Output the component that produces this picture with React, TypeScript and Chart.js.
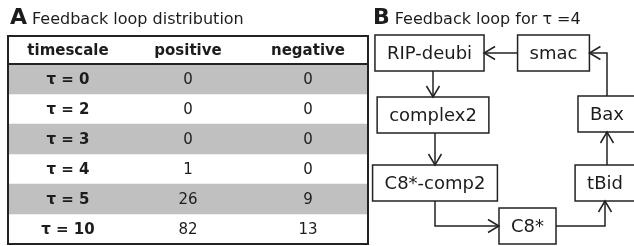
import React, { useEffect, useRef } from "react";
import { Chart, registerables } from "chart.js";

Chart.register(...registerables);

// ---------- Panel A data ----------
const timescales = ["τ = 0", "τ = 2", "τ = 3", "τ = 4", "τ = 5", "τ = 10"];
const positiveLoops = [0, 0, 0, 1, 26, 82];
const negativeLoops = [0, 0, 0, 0, 9, 13];
const columnHeaders = ["timescale", "positive", "negative"];
const shadedRows = [true, false, true, false, true, false];

// ---------- Panel B data ----------
const nodeNames = ["RIP-deubi", "smac", "complex2", "Bax", "C8*-comp2", "tBid", "C8*"];
const nodeX = [59.5, 183.5, 63, 237, 65, 235, 157.5];
const nodeY = [53, 53, 115, 114, 183, 183, 226];
const edgeFrom = ["smac", "RIP-deubi", "complex2", "C8*-comp2", "C8*", "tBid", "Bax"];
const edgeTo = ["RIP-deubi", "complex2", "C8*-comp2", "C8*", "tBid", "Bax", "smac"];
const edgeRoute = ["h", "v", "v", "vh", "hv", "v", "vh"];

const FONT = '"DejaVu Sans", Verdana, sans-serif';
const INK = "#1c1c1c";

function drawTitle(ctx: CanvasRenderingContext2D, letter: string, text: string, x: number, base: number) {
  ctx.save();
  ctx.fillStyle = INK;
  ctx.textAlign = "left";
  ctx.textBaseline = "alphabetic";
  ctx.font = `bold 22px ${FONT}`;
  ctx.fillText(letter, x, base);
  const w = ctx.measureText(letter).width;
  ctx.font = `16px ${FONT}`;
  ctx.fillText(text, x + w + 5, base);
  ctx.restore();
}

const tablePlugin = {
  id: "tableDecor",
  afterDatasetsDraw(chart: any) {
    const { ctx, chartArea, scales } = chart;
    const xs = scales.x;
    const ys = scales.y;
    const headerTop = 36;
    drawTitle(ctx, "A", "Feedback loop distribution", 10, 24);
    ctx.save();
    ctx.fillStyle = INK;
    ctx.textAlign = "center";
    ctx.textBaseline = "middle";
    ctx.font = `bold 15px ${FONT}`;
    columnHeaders.forEach((h, i) => {
      ctx.fillText(h, xs.getPixelForValue(i + 0.5), (headerTop + chartArea.top) / 2 + 1);
    });
    timescales.forEach((t, i) => {
      const py = ys.getPixelForValue(i) + 1;
      ctx.font = `bold 15px ${FONT}`;
      ctx.fillText(t, xs.getPixelForValue(0.5), py);
      ctx.font = `15px ${FONT}`;
      ctx.fillText(String(positiveLoops[i]), xs.getPixelForValue(1.5), py);
      ctx.fillText(String(negativeLoops[i]), xs.getPixelForValue(2.5), py);
    });
    ctx.strokeStyle = "#222";
    ctx.lineWidth = 2;
    ctx.strokeRect(chartArea.left, headerTop, chartArea.right - chartArea.left, chartArea.bottom - headerTop);
    ctx.beginPath();
    ctx.moveTo(chartArea.left, chartArea.top);
    ctx.lineTo(chartArea.right, chartArea.top);
    ctx.stroke();
    ctx.restore();
  },
};

function arrowHead(ctx: CanvasRenderingContext2D, tx: number, ty: number, dx: number, dy: number) {
  const len = 11;
  const half = 6.5;
  const px = -dy;
  const py = dx;
  ctx.beginPath();
  ctx.moveTo(tx - dx * len + px * half, ty - dy * len + py * half);
  ctx.lineTo(tx, ty);
  ctx.lineTo(tx - dx * len - px * half, ty - dy * len - py * half);
  ctx.stroke();
}

const diagramPlugin = {
  id: "diagramDecor",
  afterDatasetsDraw(chart: any) {
    const { ctx, scales } = chart;
    const xs = scales.x;
    const ys = scales.y;
    drawTitle(ctx, "B", "Feedback loop for τ =4", 3, 24);
    ctx.save();
    ctx.font = `18px ${FONT}`;
    const pad = 12;
    const boxH = 36;
    const boxes: Record<string, { l: number; r: number; t: number; b: number; cx: number; cy: number }> = {};
    nodeNames.forEach((n, i) => {
      const cx = xs.getPixelForValue(nodeX[i]);
      const cy = ys.getPixelForValue(nodeY[i]);
      const w = ctx.measureText(n).width + pad * 2;
      boxes[n] = { l: cx - w / 2, r: cx + w / 2, t: cy - boxH / 2, b: cy + boxH / 2, cx, cy };
    });
    ctx.strokeStyle = "#222";
    ctx.lineWidth = 1.5;
    ctx.fillStyle = INK;
    ctx.textAlign = "center";
    ctx.textBaseline = "middle";
    nodeNames.forEach((n) => {
      const b = boxes[n];
      ctx.fillStyle = "#fff";
      ctx.fillRect(b.l, b.t, b.r - b.l, b.b - b.t);
      ctx.strokeRect(b.l, b.t, b.r - b.l, b.b - b.t);
      ctx.fillStyle = INK;
      ctx.fillText(n, b.cx, b.cy + 1);
    });
    edgeFrom.forEach((f, i) => {
      const a = boxes[f];
      const b = boxes[edgeTo[i]];
      const route = edgeRoute[i];
      ctx.beginPath();
      if (route === "h") {
        const y = b.cy;
        const dir = b.cx > a.cx ? 1 : -1;
        const sx = dir > 0 ? a.r : a.l;
        const ex = dir > 0 ? b.l : b.r;
        ctx.moveTo(sx, y);
        ctx.lineTo(ex, y);
        ctx.stroke();
        arrowHead(ctx, ex, y, dir, 0);
      } else if (route === "v") {
        const x = b.cx;
        const dir = b.cy > a.cy ? 1 : -1;
        const sy = dir > 0 ? a.b : a.t;
        const ey = dir > 0 ? b.t : b.b;
        ctx.moveTo(x, sy);
        ctx.lineTo(x, ey);
        ctx.stroke();
        arrowHead(ctx, x, ey, 0, dir);
      } else if (route === "vh") {
        const x = a.cx;
        const y = b.cy;
        const vdir = y > a.cy ? 1 : -1;
        const sy = vdir > 0 ? a.b : a.t;
        const hdir = b.cx > x ? 1 : -1;
        const ex = hdir > 0 ? b.l : b.r;
        ctx.moveTo(x, sy);
        ctx.lineTo(x, y);
        ctx.lineTo(ex, y);
        ctx.stroke();
        arrowHead(ctx, ex, y, hdir, 0);
      } else {
        const y = a.cy;
        const x = b.cx;
        const hdir = x > a.cx ? 1 : -1;
        const sx = hdir > 0 ? a.r : a.l;
        const vdir = b.cy > y ? 1 : -1;
        const ey = vdir > 0 ? b.t : b.b;
        ctx.moveTo(sx, y);
        ctx.lineTo(x, y);
        ctx.lineTo(x, ey);
        ctx.stroke();
        arrowHead(ctx, x, ey, 0, vdir);
      }
    });
    ctx.restore();
  },
};

export default function App() {
  const tableRef = useRef<HTMLCanvasElement>(null);
  const diagRef = useRef<HTMLCanvasElement>(null);

  useEffect(() => {
    const tableChart = new Chart(tableRef.current!, {
      type: "bar",
      data: {
        labels: timescales,
        datasets: [
          {
            data: shadedRows.map((s) => (s ? [0, columnHeaders.length] : null)) as any,
            backgroundColor: "#c0c0c0",
            borderWidth: 0,
            barPercentage: 1,
            categoryPercentage: 1,
          },
        ],
      },
      options: {
        indexAxis: "y",
        responsive: false,
        animation: false,
        devicePixelRatio: 1,
        layout: { padding: { left: 8, right: 2, top: 64, bottom: 2 } },
        scales: {
          x: { type: "linear", min: 0, max: columnHeaders.length, display: false },
          y: { type: "category", display: false },
        },
        plugins: { legend: { display: false }, tooltip: { enabled: false }, title: { display: false } },
      },
      plugins: [tablePlugin],
    });

    const diagChart = new Chart(diagRef.current!, {
      type: "scatter",
      data: {
        datasets: [
          {
            data: nodeNames.map((_, i) => ({ x: nodeX[i], y: nodeY[i] })),
            pointRadius: 0,
            showLine: false,
          },
        ],
      },
      options: {
        responsive: false,
        animation: false,
        devicePixelRatio: 1,
        layout: { padding: 0 },
        scales: {
          x: { type: "linear", min: 0, max: 264, display: false },
          y: { type: "linear", min: 0, max: 246, reverse: true, display: false },
        },
        plugins: { legend: { display: false }, tooltip: { enabled: false } },
      },
      plugins: [diagramPlugin],
    });

    return () => {
      tableChart.destroy();
      diagChart.destroy();
    };
  }, []);

  return (
    <div
      style={{
        position: "fixed",
        left: 0,
        top: 0,
        width: 634,
        height: 246,
        overflow: "hidden",
        background: "#fff",
      }}
    >
      <canvas ref={tableRef} width={370} height={246} style={{ position: "absolute", left: 0, top: 0 }} />
      <canvas ref={diagRef} width={264} height={246} style={{ position: "absolute", left: 370, top: 0 }} />
    </div>
  );
}
